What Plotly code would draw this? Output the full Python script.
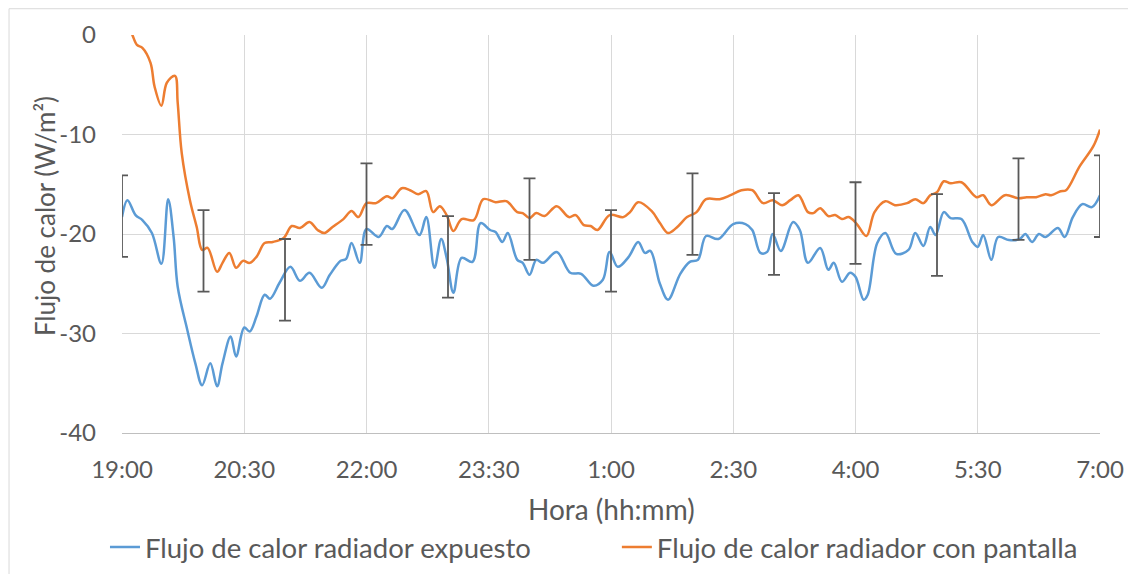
import plotly.graph_objects as go
from datetime import datetime

# Flujo de calor del radiador expuesto (W/m2)
horas_expuesto = [
    '19:00', '19:04', '19:10', '19:15', '19:22', '19:29', '19:34', '19:38', '19:41', '19:48',
    '19:54', '19:59', '20:05', '20:10', '20:14', '20:20', '20:24', '20:30', '20:34', '20:39',
    '20:45', '20:49', '20:56', '21:04', '21:11', '21:18', '21:27', '21:33', '21:41', '21:45',
    '21:49', '21:55', '22:00', '22:09', '22:15', '22:19', '22:28', '22:39', '22:44', '22:50',
    '22:55', '22:59', '23:04', '23:10', '23:18', '23:24', '23:31', '23:35', '23:40', '23:44',
    '23:51', '23:55', '00:00', '00:05', '00:10', '00:20', '00:30', '00:38', '00:47', '00:54',
    '00:59', '01:05', '01:13', '01:20', '01:25', '01:29', '01:36', '01:42', '01:51', '01:58',
    '02:04', '02:10', '02:19', '02:30', '02:39', '02:44', '02:50', '02:55', '02:59', '03:05',
    '03:14', '03:19', '03:25', '03:34', '03:40', '03:44', '03:50', '03:56', '04:00', '04:06',
    '04:09', '04:16', '04:22', '04:30', '04:39', '04:44', '04:50', '04:55', '04:59', '05:05',
    '05:10', '05:18', '05:26', '05:30', '05:34', '05:40', '05:45', '05:53', '06:01', '06:05',
    '06:10', '06:15', '06:20', '06:29', '06:34', '06:40', '06:47', '06:54', '07:00',
]
flujo_expuesto = [
    -18.3, -16.6, -18.1, -18.6, -19.9, -23.0, -16.5, -20.3, -25.3, -29.6,
    -33.0, -35.2, -33.0, -35.3, -33.0, -30.3, -32.3, -29.4, -29.8, -28.3,
    -26.1, -26.5, -24.9, -23.3, -24.7, -23.9, -25.4, -24.1, -22.7, -22.5,
    -20.9, -22.9, -19.5, -20.3, -19.2, -19.5, -17.6, -20.1, -18.3, -23.4,
    -20.5, -22.4, -25.9, -22.4, -22.8, -18.9, -19.6, -19.8, -20.8, -19.9,
    -22.6, -22.9, -24.1, -22.6, -22.9, -21.8, -23.9, -24.0, -25.2, -24.6,
    -21.8, -23.3, -22.3, -20.8, -21.9, -21.7, -25.0, -26.6, -24.0, -22.8,
    -22.6, -20.2, -20.5, -19.0, -19.0, -19.6, -21.9, -21.8, -20.0, -21.7,
    -18.8, -19.6, -22.9, -21.4, -23.6, -22.9, -24.8, -23.9, -24.3, -26.6,
    -26.1, -20.9, -19.9, -22.0, -21.6, -19.9, -21.2, -19.3, -20.1, -17.8,
    -18.4, -18.5, -20.8, -21.3, -20.1, -22.6, -20.3, -20.6, -20.5, -20.0,
    -20.8, -20.0, -20.3, -19.4, -20.3, -18.3, -17.0, -17.3, -16.1,
]

# Flujo de calor del radiador con pantalla (W/m2)
horas_pantalla = [
    '19:00', '19:07', '19:11', '19:15', '19:21', '19:24', '19:29', '19:33', '19:39', '19:41',
    '19:44', '19:50', '19:55', '19:59', '20:03', '20:10', '20:14', '20:19', '20:24', '20:29',
    '20:34', '20:39', '20:45', '20:51', '20:59', '21:05', '21:11', '21:18', '21:24', '21:29',
    '21:35', '21:43', '21:49', '21:54', '22:00', '22:07', '22:15', '22:19', '22:26', '22:32',
    '22:38', '22:44', '22:49', '22:54', '22:59', '23:04', '23:10', '23:19', '23:26', '23:35',
    '23:43', '23:51', '23:55', '00:00', '00:05', '00:11', '00:20', '00:29', '00:34', '00:40',
    '00:45', '00:50', '00:59', '01:09', '01:14', '01:20', '01:30', '01:36', '01:42', '01:48',
    '01:56', '02:03', '02:10', '02:20', '02:28', '02:36', '02:44', '02:52', '02:59', '03:06',
    '03:12', '03:18', '03:25', '03:29', '03:34', '03:40', '03:45', '03:50', '03:55', '04:01',
    '04:08', '04:14', '04:22', '04:29', '04:38', '04:44', '04:50', '04:55', '05:00', '05:05',
    '05:10', '05:18', '05:29', '05:34', '05:40', '05:50', '06:00', '06:06', '06:13', '06:20',
    '06:24', '06:31', '06:35', '06:45', '06:55', '07:00',
]
flujo_pantalla = [
    2.0, 0.2, -1.0, -1.3, -2.8, -5.2, -7.1, -4.8, -4.1, -6.8,
    -11.9, -16.6, -19.3, -21.6, -21.4, -23.8, -22.9, -21.9, -23.4, -22.7,
    -22.9, -22.3, -20.9, -20.8, -20.4, -19.2, -19.4, -18.8, -19.6, -19.9,
    -19.3, -18.5, -17.7, -18.3, -16.9, -16.9, -16.2, -16.4, -15.4, -15.6,
    -16.0, -15.7, -17.8, -17.2, -18.1, -19.7, -18.5, -18.6, -16.5, -16.8,
    -16.7, -17.8, -17.9, -18.4, -17.9, -18.2, -17.2, -18.3, -18.1, -19.1,
    -19.2, -19.6, -18.1, -18.3, -17.8, -16.8, -17.7, -18.9, -19.9, -19.4,
    -18.3, -17.8, -16.5, -16.5, -16.1, -15.6, -15.6, -16.9, -16.6, -17.1,
    -16.6, -16.1, -17.8, -17.9, -17.4, -18.2, -18.1, -18.5, -18.3, -19.0,
    -20.2, -17.8, -16.7, -17.1, -16.9, -16.5, -16.9, -16.1, -15.8, -14.7,
    -14.9, -14.8, -16.3, -16.1, -17.1, -16.1, -16.4, -16.3, -16.3, -16.0,
    -16.1, -15.7, -15.6, -13.2, -11.2, -9.5,
]

# barras de error (cada 2 horas, alternando series)
horas_err_expuesto = ['19:00', '21:00', '23:00', '01:00', '03:00', '05:00', '07:00']
valores_err_expuesto = [-18.2, -24.6, -22.3, -21.7, -20.0, -20.1, -16.2]
horas_err_pantalla = ['20:00', '22:00', '00:00', '02:00', '04:00', '06:00']
valores_err_pantalla = [-21.7, -17.0, -18.5, -18.0, -18.9, -16.5]
error_flujo = 4.1

# ticks del eje y (con guion normal, como en Excel)
ticks_y = [0, -10, -20, -30, -40]
etiquetas_y = ['0', '-10', '-20', '-30', '-40']


def a_fecha(hora):
    h, m = map(int, hora.split(':'))
    dia = 1 if h >= 19 else 2
    return datetime(2023, 1, dia, h, m)


GRIS = '#595959'
FUENTE = 'Lato'

fig = go.Figure()

fig.add_trace(go.Scatter(
    x=[a_fecha(h) for h in horas_expuesto], y=flujo_expuesto,
    mode='lines', line=dict(color='#5B9BD5', width=2.5, shape='spline'),
    name='Flujo de calor radiador expuesto', legend='legend'
))
fig.add_trace(go.Scatter(
    x=[a_fecha(h) for h in horas_pantalla], y=flujo_pantalla,
    mode='lines', line=dict(color='#ED7D31', width=2.5, shape='spline'),
    name='Flujo de calor radiador con pantalla', legend='legend2'
))

for horas, valores in [(horas_err_expuesto, valores_err_expuesto),
                       (horas_err_pantalla, valores_err_pantalla)]:
    fig.add_trace(go.Scatter(
        x=[a_fecha(h) for h in horas], y=valores, mode='markers',
        marker=dict(size=1, color='rgba(0,0,0,0)'),
        error_y=dict(type='constant', value=error_flujo, color=GRIS, thickness=1.8, width=6),
        showlegend=False, hoverinfo='skip'
    ))

# la pagina tiene 8px de margen, por eso 1128x566
fig.update_layout(
    width=1128, height=566,
    margin=dict(l=114, r=36, t=27, b=141, autoexpand=False),
    plot_bgcolor='white', paper_bgcolor='white',
    font=dict(family=FUENTE, size=24, color=GRIS),
    legend=dict(orientation='h', x=-0.0174, y=-0.287, xanchor='left', yanchor='middle',
                font=dict(size=27.5, color=GRIS), bgcolor='rgba(0,0,0,0)'),
    legend2=dict(orientation='h', x=0.506, y=-0.287, xanchor='left', yanchor='middle',
                 font=dict(size=27.5, color=GRIS), bgcolor='rgba(0,0,0,0)'),
    annotations=[
        dict(text='Flujo de calor (W/m²)', xref='paper', yref='paper', x=-0.0787, y=0.545,
             textangle=-90, showarrow=False, xanchor='center', yanchor='middle',
             font=dict(size=26, color=GRIS)),
        dict(text='Hora (hh:mm)', xref='paper', yref='paper', x=0.5, y=-0.192,
             showarrow=False, xanchor='center', yanchor='middle',
             font=dict(size=28, color=GRIS)),
    ],
    shapes=[
        dict(type='line', xref='paper', yref='paper', x0=-0.1155, x1=-0.1155, y0=-0.4, y1=1.066,
             line=dict(color='#d9d9d9', width=1)),
        dict(type='line', xref='paper', yref='paper', x0=-0.1155, x1=1.05, y0=1.066, y1=1.066,
             line=dict(color='#d9d9d9', width=1)),
    ],
)

fig.update_xaxes(
    type='date', range=[datetime(2023, 1, 1, 19, 0), datetime(2023, 1, 2, 7, 0)],
    tick0=datetime(2023, 1, 1, 19, 0), dtick=90 * 60 * 1000, tickformat='%-H:%M',
    showgrid=True, gridcolor='#d9d9d9', gridwidth=1,
    showline=True, linecolor='#bfbfbf', linewidth=1.3, mirror=False,
    ticks='', ticklabelstandoff=15, zeroline=False, automargin=False,
    tickfont=dict(size=24, color=GRIS)
)
fig.update_yaxes(
    range=[-40, 0], tickvals=ticks_y, ticktext=etiquetas_y,
    showgrid=True, gridcolor='#d9d9d9', gridwidth=1, automargin=False,
    zeroline=False, showline=False, ticks='', ticklabelstandoff=25,
    tickfont=dict(size=24, color=GRIS)
)

fig.write_html('out.html')
